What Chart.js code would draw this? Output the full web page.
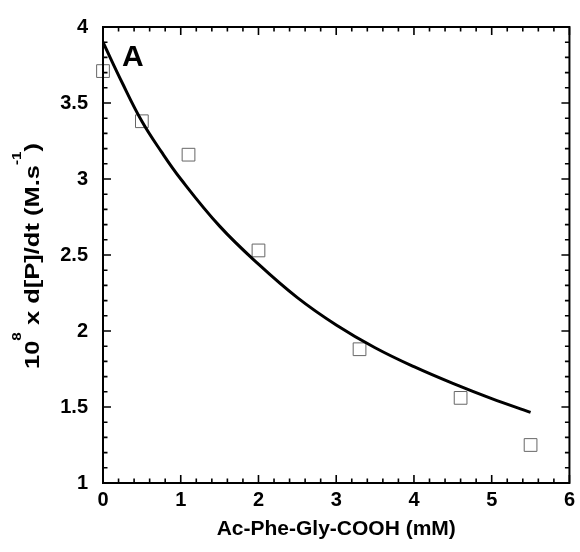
<!DOCTYPE html>
<html>
<head>
<meta charset="utf-8">
<script src="https://cdn.jsdelivr.net/npm/chart.js@4.4.1/dist/chart.umd.min.js"></script>
<style>
  html, body { margin: 0; padding: 0; background: #fff; }
  #wrap { width: 580px; height: 552px; }
</style>
</head>
<body>
<div id="wrap"><canvas id="chart" width="580" height="552"></canvas></div>
<script>
// measured points (open squares)
const concX = [0, 0.5, 1.1, 2.0, 3.3, 4.6, 5.5];
const rateY = [3.71, 3.38, 3.16, 2.53, 1.88, 1.56, 1.25];

// fitted curve
const fitX = [0, 0.25, 0.5, 0.75, 1, 1.5, 2, 2.5, 3, 3.5, 4, 4.5, 5, 5.5];
const fitY = [3.90, 3.63, 3.38, 3.18, 3.00, 2.69, 2.44, 2.22, 2.04, 1.89, 1.765, 1.655, 1.555, 1.465];

// tick labels
const xTicks = [0, 1, 2, 3, 4, 5, 6];
const yTicks = [1, 1.5, 2, 2.5, 3, 3.5, 4];

const FONT = '"Liberation Sans", Arial, Helvetica, sans-serif';
Chart.defaults.font.family = FONT;
Chart.defaults.color = '#000';

// frame, inward ticks on all four sides, panel letter and axis titles
const decor = {
  id: 'decor',
  afterDraw(chart) {
    const ctx = chart.ctx;
    const { left, right, top, bottom } = chart.chartArea;
    const xs = chart.scales.x, ys = chart.scales.y;
    ctx.save();
    ctx.strokeStyle = '#000';
    ctx.lineWidth = 2;
    ctx.strokeRect(left, top, right - left, bottom - top);

    ctx.lineWidth = 1.6;
    ctx.beginPath();
    for (let i = 0; i <= 30; i++) {
      const px = xs.getPixelForValue(i / 5);
      const len = i % 5 === 0 ? 8 : 4.5;
      ctx.moveTo(px, bottom); ctx.lineTo(px, bottom - len);
      ctx.moveTo(px, top); ctx.lineTo(px, top + len);
    }
    for (let i = 0; i <= 30; i++) {
      const py = ys.getPixelForValue(1 + i / 10);
      const len = i % 5 === 0 ? 8 : 4.5;
      ctx.moveTo(left, py); ctx.lineTo(left + len, py);
      ctx.moveTo(right, py); ctx.lineTo(right - len, py);
    }
    ctx.stroke();

    // panel letter
    ctx.fillStyle = '#000';
    ctx.font = 'bold 30px ' + FONT;
    ctx.textAlign = 'left';
    ctx.textBaseline = 'alphabetic';
    ctx.fillText('A', left + 19, top + 39);

    // x title
    ctx.font = 'bold 21px ' + FONT;
    ctx.textAlign = 'center';
    ctx.fillText('Ac-Phe-Gly-COOH (mM)', (left + right) / 2, 535);

    // y title with superscripts
    const parts = [
      ['10', false], ['8', true], [' x d[P]/dt (M.s', false], ['-1', true], [')', false]
    ];
    const mainFont = 'bold 20px ' + FONT, supFont = 'bold 12px ' + FONT;
    let total = 0;
    parts.forEach(p => { ctx.font = p[1] ? supFont : mainFont; total += ctx.measureText(p[0]).width; });
    const sx = 226 / total;
    ctx.translate(39, (top + bottom) / 2 + 1);
    ctx.rotate(-Math.PI / 2);
    ctx.scale(sx, 1);
    ctx.textAlign = 'left';
    let cx = -total / 2;
    parts.forEach(p => {
      ctx.font = p[1] ? supFont : mainFont;
      ctx.fillText(p[0], cx, p[1] ? -18 : 0);
      cx += ctx.measureText(p[0]).width;
    });
    ctx.restore();
  }
};

new Chart(document.getElementById('chart'), {
  type: 'scatter',
  data: {
    datasets: [
      {
        label: 'fit',
        type: 'line',
        data: fitX.map((x, i) => ({ x: x, y: fitY[i] })),
        borderColor: '#000',
        borderWidth: 3,
        pointRadius: 0,
        fill: false,
        tension: 0.4
      },
      {
        label: 'data',
        data: concX.map((x, i) => ({ x: x, y: rateY[i] })),
        pointStyle: 'rect',
        pointRadius: 9,
        borderColor: '#666',
        borderWidth: 1,
        backgroundColor: 'rgba(0,0,0,0)',
        clip: false
      }
    ]
  },
  options: {
    responsive: false,
    animation: false,
    devicePixelRatio: 1,
    layout: { padding: { top: 23, right: 9, left: 0, bottom: 0 } },
    plugins: {
      legend: { display: false },
      tooltip: { enabled: false }
    },
    scales: {
      x: {
        type: 'linear',
        min: 0,
        max: 6,
        afterBuildTicks: s => { s.ticks = xTicks.map(v => ({ value: v })); },
        afterFit: s => { s.height = 69; },
        grid: { display: false, drawTicks: false },
        border: { display: false },
        ticks: {
          callback: v => String(v),
          font: { size: 20, weight: 'bold' },
          color: '#000',
          padding: 5,
          maxRotation: 0
        }
      },
      y: {
        type: 'linear',
        min: 1,
        max: 4,
        afterBuildTicks: s => { s.ticks = yTicks.map(v => ({ value: v })); },
        afterFit: s => { s.width = 103; },
        grid: { display: false, drawTicks: false },
        border: { display: false },
        ticks: {
          callback: v => String(v),
          font: { size: 20, weight: 'bold' },
          color: '#000',
          padding: 15
        }
      }
    }
  },
  plugins: [decor]
});
</script>
</body>
</html>
